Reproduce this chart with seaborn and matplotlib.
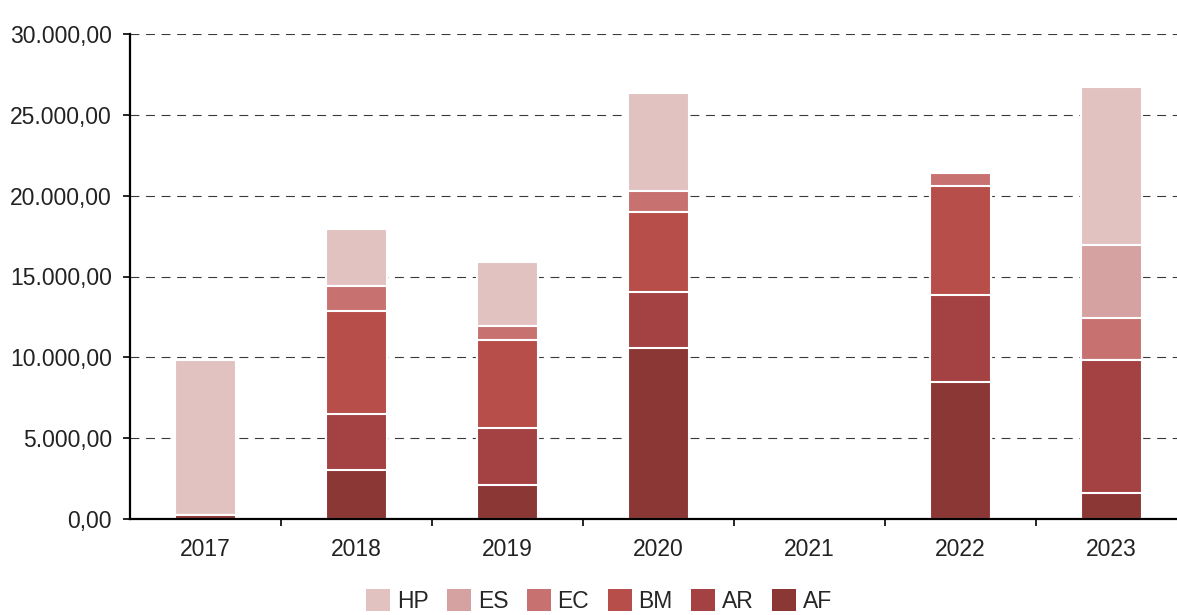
import pandas as pd
import matplotlib
matplotlib.use("Agg")
import matplotlib.pyplot as plt
import seaborn as sns
from matplotlib.ticker import FuncFormatter, FixedLocator
from matplotlib.patches import Patch

# values
years = ["2017", "2018", "2019", "2020", "2021", "2022", "2023"]
AF = [250, 3030, 2100, 10580, 0, 8500, 1610]
AR = [0, 3465, 3530, 3460, 0, 5360, 8225]
BM = [0, 6370, 5440, 4950, 0, 6740, 0]
EC = [0, 1545, 870, 1300, 0, 820, 2580]
ES = [0, 0, 0, 0, 0, 0, 4560]
HP = [9580, 3525, 3960, 6060, 0, 0, 9730]

series_names = ["AF", "AR", "BM", "EC", "ES", "HP"]
series_vals = [AF, AR, BM, EC, ES, HP]
colors = {"HP": "#e1c2c1", "ES": "#d5a2a1", "EC": "#c77271",
          "BM": "#b84e4a", "AR": "#a44142", "AF": "#8b3736"}

# cumulative tops so stacked bars can be drawn as overlapping bars
rows = []
running = [0] * len(years)
for name, vals in zip(series_names, series_vals):
    running = [r + v for r, v in zip(running, vals)]
    for y, c in zip(years, running):
        rows.append({"year": y, "series": name, "top": c})
df = pd.DataFrame(rows)

sns.set_style("white")
plt.rcParams["font.family"] = ["Liberation Sans", "DejaVu Sans"]

fig = plt.figure(figsize=(11.77, 6.15), dpi=100)
ax = fig.add_axes([130 / 1177, 96 / 615, 1057 / 1177, 485 / 615])

legend_order = ["HP", "ES", "EC", "BM", "AR", "AF"]
sns.barplot(data=df, x="year", y="top", hue="series", hue_order=legend_order,
            order=years, dodge=False, palette=colors, width=0.4,
            edgecolor="white", linewidth=1.5, saturation=1, legend=False, ax=ax)

ax.set_xlim(-0.5, 6.5)
ax.set_ylim(0, 30000)
ax.set_yticks(range(0, 30001, 5000))
ax.yaxis.set_major_formatter(FuncFormatter(
    lambda v, p: f"{v:,.2f}".replace(",", "X").replace(".", ",").replace("X", ".")))
ax.set_axisbelow(True)
ax.yaxis.grid(True, color="#3a3a3a", linestyle=(0, (8, 6)), linewidth=0.8)
ax.xaxis.grid(False)

for s in ["top", "right"]:
    ax.spines[s].set_visible(False)
for s in ["left", "bottom"]:
    ax.spines[s].set_color("black")
    ax.spines[s].set_linewidth(1.6)

ax.xaxis.set_minor_locator(FixedLocator([i + 0.5 for i in range(6)]))
ax.tick_params(axis="x", which="major", length=0, pad=14, labelsize=16.5, labelcolor="#222222")
ax.tick_params(axis="x", which="minor", length=5, width=1.2, color="black", direction="out", bottom=True)
ax.tick_params(axis="y", which="major", length=5, width=1.2, color="black", left=True,
               pad=8, labelsize=16.5, labelcolor="#222222")
ax.set_xlabel("")
ax.set_ylabel("")

handles = [Patch(facecolor=colors[n], edgecolor="none", label=n) for n in legend_order]
fig.legend(handles=handles, loc="center", bbox_to_anchor=(0.509, 14 / 615), ncol=6,
           frameon=False, fontsize=16.5, handlelength=1.05, handleheight=1.05,
           handletextpad=0.3, columnspacing=0.8)

fig.savefig("out.png", dpi=100)
